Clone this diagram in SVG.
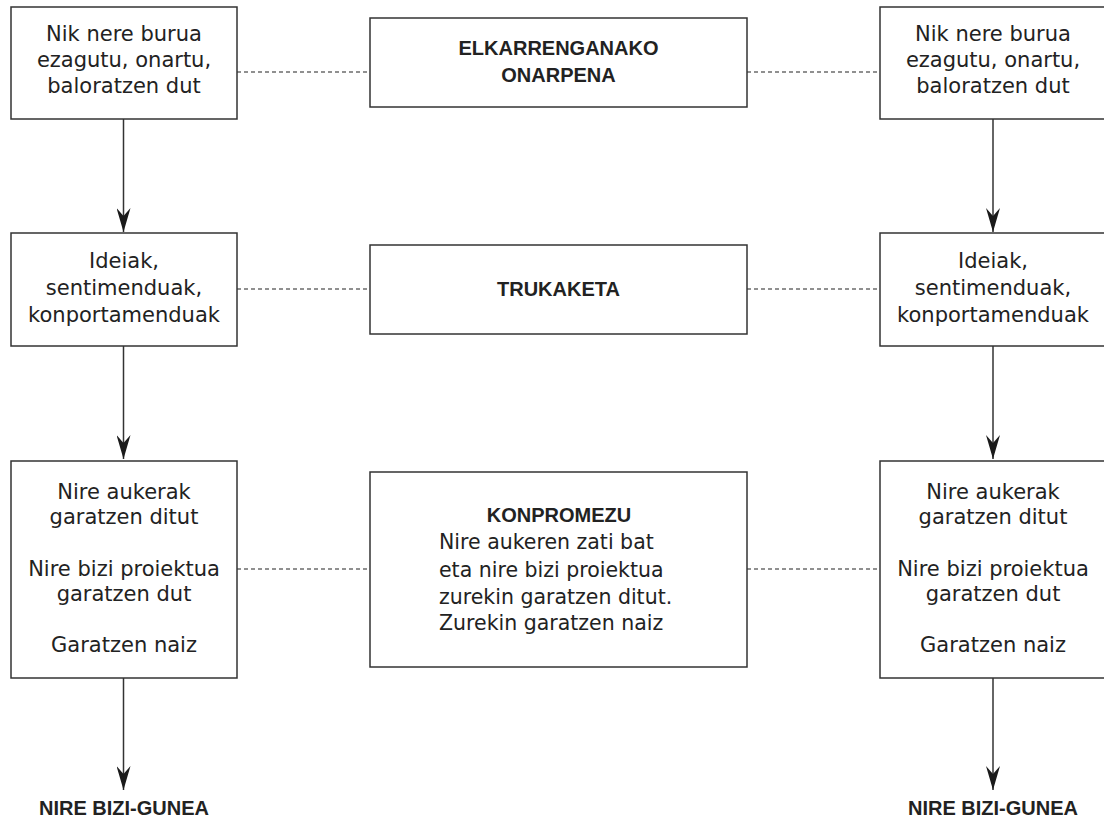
<svg xmlns="http://www.w3.org/2000/svg" width="1104" height="820" viewBox="0 0 1104 820">
<style>
.box{fill:#fff;stroke:#333;stroke-width:1.5}
.t{font-family:"DejaVu Sans",sans-serif;font-size:21px;fill:#222;text-anchor:middle}
.tl{font-family:"DejaVu Sans",sans-serif;font-size:20.5px;fill:#222}
.b{font-family:"Liberation Sans",Arial,sans-serif;font-weight:bold;font-size:20px;fill:#222;text-anchor:middle}
.dash{stroke:#222;stroke-width:1.2;stroke-dasharray:4,3;fill:none}
.arr{stroke:#333;stroke-width:1.5;fill:none;marker-end:url(#ah)}
</style>
<defs>
<marker id="ah" markerUnits="userSpaceOnUse" viewBox="0 0 24 14" markerWidth="24" markerHeight="14" refX="24" refY="7" orient="auto">
<path d="M0,0 L24,7 L0,14 L8,7 z" fill="#1a1a1a"/>
</marker>
</defs>
<rect width="1104" height="820" fill="#fff"/>
<g id="connectors">
<line class="arr" x1="123.5" y1="119" x2="123.5" y2="232"/>
<line class="arr" x1="123.5" y1="346" x2="123.5" y2="459"/>
<line class="arr" x1="123.5" y1="678" x2="123.5" y2="790"/>
<line class="arr" x1="993" y1="119" x2="993" y2="232"/>
<line class="arr" x1="993" y1="346" x2="993" y2="459"/>
<line class="arr" x1="993" y1="678" x2="993" y2="790"/>
<line class="dash" x1="237" y1="72" x2="370" y2="72"/>
<line class="dash" x1="747" y1="72" x2="880" y2="72"/>
<line class="dash" x1="237" y1="289" x2="370" y2="289"/>
<line class="dash" x1="747" y1="289" x2="880" y2="289"/>
<line class="dash" x1="237" y1="569" x2="370" y2="569"/>
<line class="dash" x1="747" y1="569" x2="880" y2="569"/>
</g>
<g id="left1">
<rect class="box" x="11" y="7" width="226" height="112"/>
<text class="t" x="124" y="41">Nik nere burua</text>
<text class="t" x="124" y="67">ezagutu, onartu,</text>
<text class="t" x="124" y="93">baloratzen dut</text>
</g>
<g id="center1">
<rect class="box" x="370" y="18" width="377" height="89"/>
<text class="b" x="558.5" y="55">ELKARRENGANAKO</text>
<text class="b" x="558.5" y="82">ONARPENA</text>
</g>
<g id="right1">
<rect class="box" x="880" y="7" width="226" height="112"/>
<text class="t" x="993" y="41">Nik nere burua</text>
<text class="t" x="993" y="67">ezagutu, onartu,</text>
<text class="t" x="993" y="93">baloratzen dut</text>
</g>
<g id="left2">
<rect class="box" x="11" y="233" width="226" height="113"/>
<text class="t" x="124" y="268">Ideiak,</text>
<text class="t" x="124" y="295">sentimenduak,</text>
<text class="t" x="124" y="322">konportamenduak</text>
</g>
<g id="center2">
<rect class="box" x="370" y="245" width="377" height="89"/>
<text class="b" x="558.5" y="296">TRUKAKETA</text>
</g>
<g id="right2">
<rect class="box" x="880" y="233" width="226" height="113"/>
<text class="t" x="993" y="268">Ideiak,</text>
<text class="t" x="993" y="295">sentimenduak,</text>
<text class="t" x="993" y="322">konportamenduak</text>
</g>
<g id="left3">
<rect class="box" x="11" y="461" width="226" height="217"/>
<text class="t" x="124" y="499">Nire aukerak</text>
<text class="t" x="124" y="524">garatzen ditut</text>
<text class="t" x="124" y="576">Nire bizi proiektua</text>
<text class="t" x="124" y="601">garatzen dut</text>
<text class="t" x="124" y="652">Garatzen naiz</text>
</g>
<g id="center3">
<rect class="box" x="370" y="472" width="377" height="195"/>
<text class="b" x="559" y="522">KONPROMEZU</text>
<text class="tl" x="439" y="549">Nire aukeren zati bat</text>
<text class="tl" x="439" y="577">eta nire bizi proiektua</text>
<text class="tl" x="439" y="604">zurekin garatzen ditut.</text>
<text class="tl" x="439" y="630">Zurekin garatzen naiz</text>
</g>
<g id="right3">
<rect class="box" x="880" y="461" width="226" height="217"/>
<text class="t" x="993" y="499">Nire aukerak</text>
<text class="t" x="993" y="524">garatzen ditut</text>
<text class="t" x="993" y="576">Nire bizi proiektua</text>
<text class="t" x="993" y="601">garatzen dut</text>
<text class="t" x="993" y="652">Garatzen naiz</text>
</g>
<g id="end-left">
<text class="b" x="124" y="815">NIRE BIZI-GUNEA</text>
</g>
<g id="end-right">
<text class="b" x="993" y="815">NIRE BIZI-GUNEA</text>
</g>
</svg>
